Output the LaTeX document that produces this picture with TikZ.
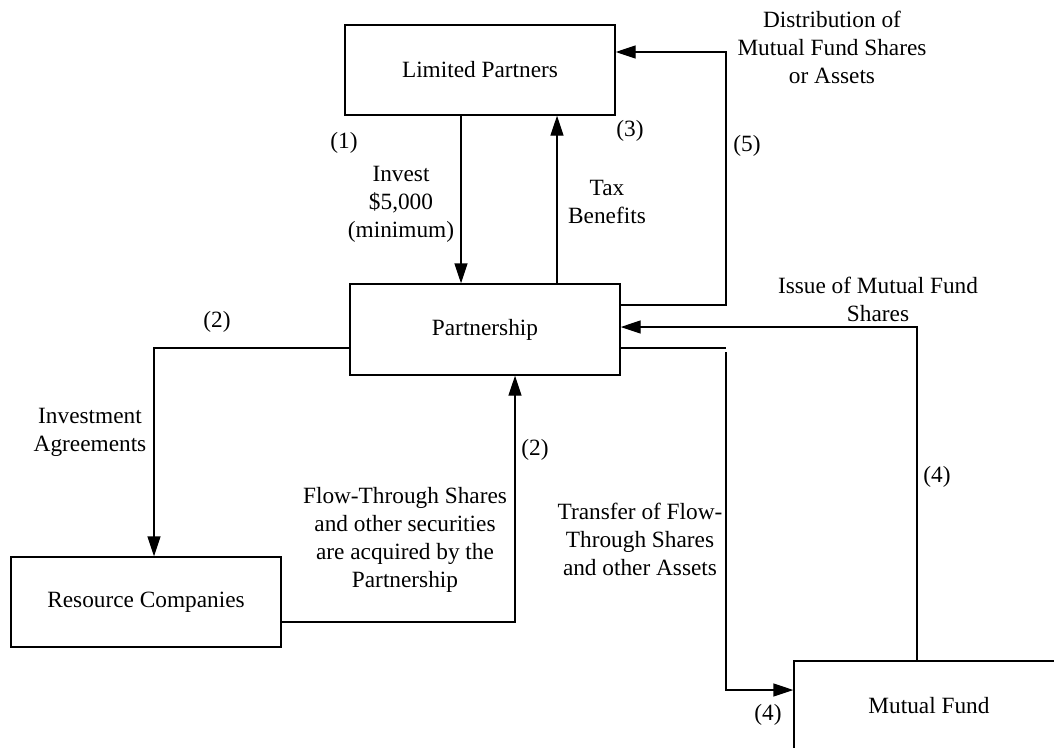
\documentclass[tikz,border=0pt]{standalone}
\usepackage{fontspec}
\setmainfont{Liberation Serif}
\usetikzlibrary{arrows.meta}

\begin{document}
\begin{tikzpicture}[x=1pt,y=-1pt,
		every node/.style={font=\fontsize{23.3}{28}\selectfont},
		box/.style={draw,line width=1.4pt,minimum width=270pt,minimum height=90pt,inner sep=0pt},
		lbl/.style={align=center,inner sep=0pt},
		flow/.style={line width=1.4pt,-{Triangle[length=20pt,width=13pt]}}]
		\useasboundingbox (0,0) rectangle (1054,747);
		\node[box](lp) at (480,70){Limited Partners};
		\node[box,minimum height=91pt](ps) at (485,329.5){Partnership};
		\node[box](rc) at (146,602){Resource Companies};
		\begin{scope}
			\clip (0,0) rectangle (1054,747);
			\node[box](mf) at (929,706){Mutual Fund};
		\end{scope}
		\coordinate (k1) at (461,0);
		\coordinate (k3) at (557,0);
		\coordinate (k5) at (726,52);
		\coordinate (r5) at (0,305);
		\coordinate (k4) at (917,327);
		\coordinate (k4b) at (726,348);
		\coordinate (r4) at (0,690);
		\coordinate (k2) at (154,348);
		\coordinate (k2b) at (515,622);
		\draw[flow] (lp.south -| k1) -- (ps.north -| k1);
		\draw[flow] (ps.north -| k3) -- (lp.south -| k3);
		\draw[flow] (ps.east |- r5) -| (k5) -- (lp.east |- k5);
		\draw[flow] (mf.north -| k4) -- (k4) -- (ps.east |- k4);
		\draw[flow] (ps.east |- k4b) -- (k4b) ++(0,4) |- (mf.west |- r4);
		\draw[flow] (ps.west |- k2) -| (rc.north -| k2);
		\draw[flow] (rc.east |- k2b) -| (ps.south -| k2b);
		\node[lbl](n1) at (344,143){(1)};
		\node[lbl](inv) at (401,204){Invest\\\$5,000\\(minimum)};
		\node[lbl](n3) at (630,131){(3)};
		\node[lbl](tax) at (607,202){Tax\\Benefits};
		\node[lbl](n5) at (747,146){(5)};
		\node[lbl](dist) at (832,47){Distribution of\\Mutual Fund Shares\\or Assets};
		\node[lbl](iss) at (878,299){Issue of Mutual Fund\\Shares};
		\node[lbl](n2a) at (217,322){(2)};
		\node[lbl](agr) at (90,432){Investment\\Agreements};
		\node[lbl](n2b) at (535,450){(2)};
		\node[lbl](fts) at (405,540){Flow-Through Shares\\and other securities\\are acquired by the\\Partnership};
		\node[lbl](tr) at (640,539){Transfer of Flow-\\Through Shares\\and other Assets};
		\node[lbl](n4a) at (937,477){(4)};
		\node[lbl](n4b) at (768,715){(4)};
	\end{tikzpicture}
\end{document}
